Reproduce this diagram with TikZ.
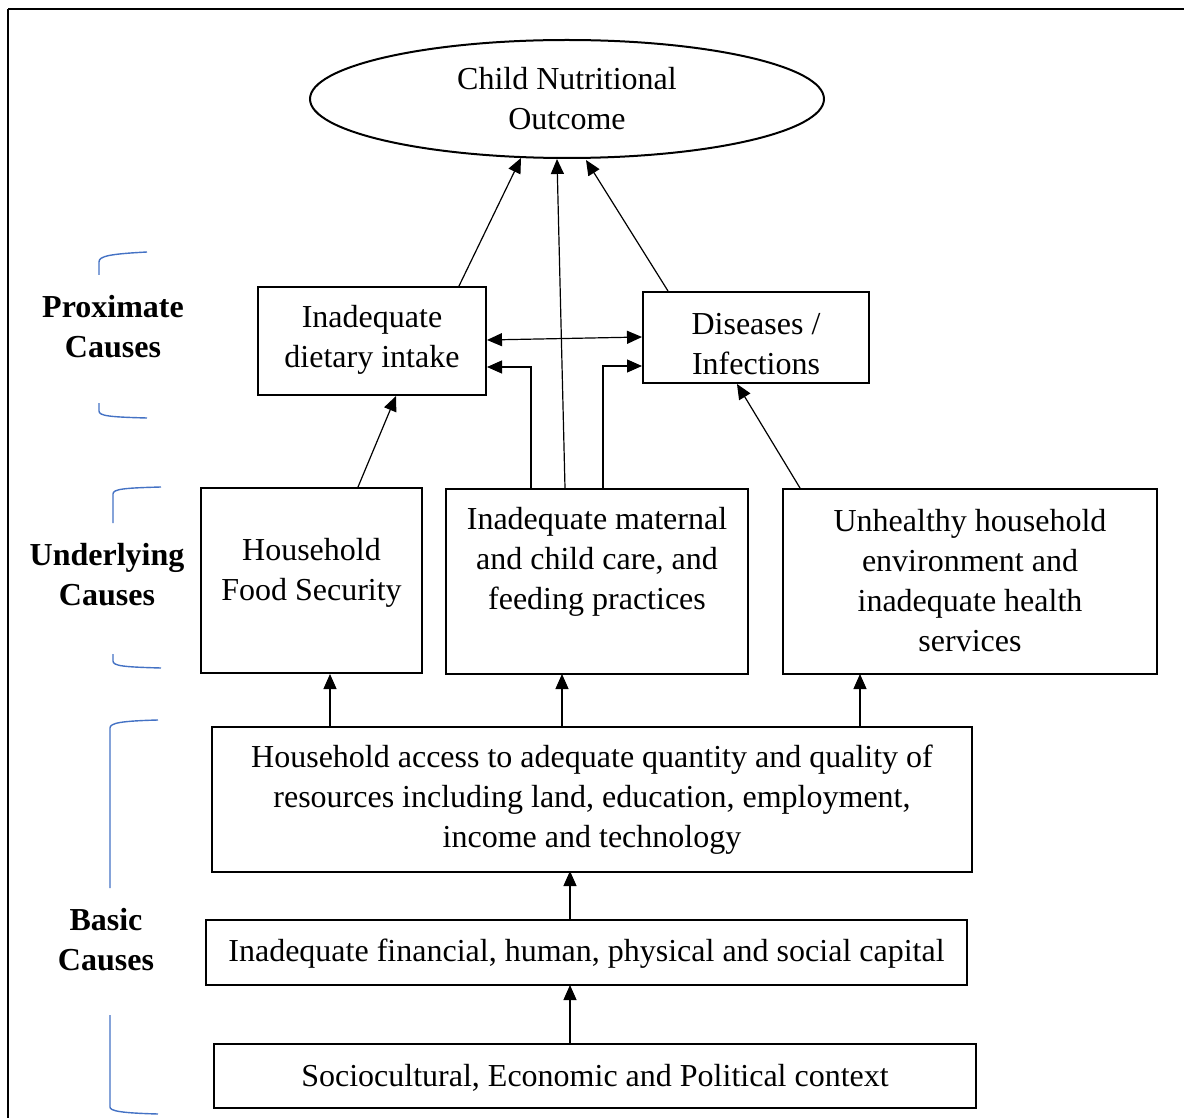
\documentclass[tikz,border=0pt]{standalone}
\usepackage{fontspec}
\setmainfont{Liberation Serif}
\usetikzlibrary{shapes.geometric,arrows.meta,calc}
\definecolor{brk}{RGB}{68,114,196}
\begin{document}
\begin{tikzpicture}[x=0.5pt,y=-0.5pt,
  box/.style={draw,line width=1pt,rectangle,inner sep=0pt},
  txt/.style={align=center,inner sep=0pt,font=\fontsize{16}{20}\selectfont},
  lab/.style={align=center,inner sep=0pt,font=\fontsize{16}{20}\selectfont\bfseries},
  arr/.style={line width=0.6pt,-{Triangle[length=7.5pt,width=6.5pt]}},
  darr/.style={line width=0.6pt,{Triangle[length=7.5pt,width=6.5pt]}-{Triangle[length=7.5pt,width=6.5pt]}},
  brack/.style={draw=brk,line width=0.7pt}]
\useasboundingbox (0,0) rectangle (1184,1118);
\begin{scope}
\clip (0,0) rectangle (1184,1118);
\draw[line width=1.4pt] (8,9) -- (1230,9);
\draw[line width=1.4pt] (8,9) -- (8,1160);
\end{scope}

% ellipse
\node[draw,line width=1pt,ellipse,minimum width=257pt,minimum height=59pt,inner sep=0pt] (ell) at (567,99) {};
\node[txt] (tell) at (567,99) {Child Nutritional\\Outcome};

% boxes
\node[box,minimum width=114pt,minimum height=54pt] (diet) at (372,341) {};
\node[txt] (tdiet) at (372,340) {Inadequate\\dietary intake};
\node[box,minimum width=113pt,minimum height=45.5pt] (dis) at (756,337.5) {};
\node[txt] (tdis) at (756,344) {Diseases /\\Infections};
\node[box,minimum width=110.5pt,minimum height=92.5pt] (food) at (311.5,580.5) {};
\node[txt] (tfood) at (311.5,573) {Household\\Food Security};
\node[box,minimum width=151pt,minimum height=92.5pt] (mat) at (597,581.5) {};
\node[txt] (tmat) at (597,562) {Inadequate maternal\\and child care, and\\feeding practices};
\node[box,minimum width=187pt,minimum height=92.5pt] (unh) at (970,581.5) {};
\node[txt] (tunh) at (970,580.5) {Unhealthy household\\environment and\\inadequate health\\services};
\node[box,minimum width=380pt,minimum height=72.5pt] (acc) at (592,799.5) {};
\node[txt] (tacc) at (592,800) {Household access to adequate quantity and quality of\\resources including land, education, employment,\\income and technology};
\node[box,minimum width=380.5pt,minimum height=32.5pt] (fin) at (586.5,952.5) {};
\node[txt] (tfin) at (586.5,954) {Inadequate financial, human, physical and social capital};
\node[box,minimum width=381pt,minimum height=32pt] (soc) at (595,1076) {};
\node[txt] (tsoc) at (595,1078) {Sociocultural, Economic and Political context};

% side labels
\node[lab] (lprox) at (113,327) {Proximate\\Causes};
\node[lab] (lund) at (107,575) {Underlying\\Causes};
\node[lab] (lbas) at (106,940) {Basic\\Causes};

% brackets
\draw[brack] (99,275) -- (99,262) .. controls (99,256) and (110,254) .. (147,252);
\draw[brack] (99,403) -- (99,411) .. controls (99,416) and (110,417) .. (147,418);
\draw[brack] (113,523) -- (113,494) .. controls (113,489) and (124,488) .. (161,487);
\draw[brack] (113,654) -- (113,661) .. controls (113,666) and (124,667) .. (161,668);
\draw[brack] (110,888) -- (110,728) .. controls (110,723) and (121,721) .. (158,720);
\draw[brack] (110,1015) -- (110,1107) .. controls (110,1111) and (121,1113) .. (158,1114);

% connectors to ellipse
\coordinate (e1) at (521,158);
\coordinate (e2) at (557,159);
\coordinate (e3) at (586,160);
\draw[arr] ($(diet.north west)+(202,0)$) -- (e1);
\draw[arr] ($(mat.north west)+(120,0)$) -- (e2);
\draw[arr] ($(dis.north west)+(26,0)$) -- (e3);

% between proximate
\draw[darr] ($(diet.north east)+(0,54)$) -- ($(dis.north west)+(0,46)$);
\draw[arr] ($(mat.north west)+(86,0)$) |- ($(diet.north east)+(0,81)$);
\draw[arr] ($(mat.north west)+(158,0)$) |- ($(dis.north west)+(0,75)$);

% underlying to proximate
\draw[arr] ($(food.north west)+(158,0)$) -- ($(diet.south west)+(139,0)$);
\draw[arr] ($(unh.north west)+(18,0)$) -- ($(dis.south west)+(95,0)$);

% basic to underlying
\draw[arr] ($(acc.north west)+(119,0)$) -- ($(acc.north west)+(119,-52)$);
\draw[arr] ($(acc.north west)+(351,0)$) -- ($(acc.north west)+(351,-52)$);
\draw[arr] ($(acc.north west)+(649,0)$) -- ($(acc.north west)+(649,-52)$);
\draw[arr] ($(fin.north west)+(365,0)$) -- ($(fin.north west)+(365,-48)$);
\draw[arr] ($(soc.north west)+(357,0)$) -- ($(soc.north west)+(357,-58)$);
\end{tikzpicture}
\end{document}
